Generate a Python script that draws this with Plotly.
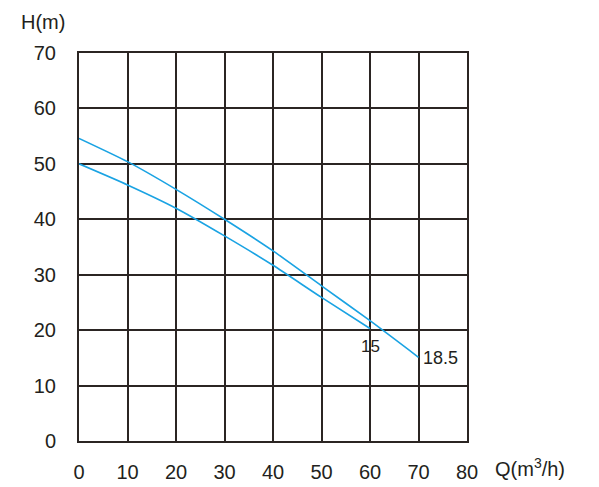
import plotly.graph_objects as go

q_185 = [0, 10, 20, 30, 40, 50, 60, 70]
h_185 = [54.6, 50.4, 45.4, 40.0, 34.3, 28.0, 21.7, 15.1]
q_15 = [0, 10, 20, 30, 40, 50, 60]
h_15 = [50.0, 46.2, 42.0, 37.0, 31.7, 25.9, 20.3]

x_ticks = [0, 10, 20, 30, 40, 50, 60, 70, 80]
y_ticks = [0, 10, 20, 30, 40, 50, 60, 70]

BLUE = "#1aa3e3"
GRID = "#2b2523"
TXT = "#231f20"
FONT = "Liberation Sans, Arial, sans-serif"

fig = go.Figure()
fig.add_trace(go.Scatter(x=q_185, y=h_185, mode="lines", line=dict(color=BLUE, width=1.6, shape="spline", smoothing=0.6), showlegend=False))
fig.add_trace(go.Scatter(x=q_15, y=h_15, mode="lines", line=dict(color=BLUE, width=1.6, shape="spline", smoothing=0.6), showlegend=False))

fig.add_annotation(x=q_15[-1], y=h_15[-1], text="15", showarrow=False, xanchor="center", yanchor="top", yshift=-7,
                   font=dict(size=17, color=TXT, family=FONT))
fig.add_annotation(x=q_185[-1], y=h_185[-1], text="18.5", showarrow=False, xanchor="left", yanchor="middle", xshift=2, yshift=-1,
                   font=dict(size=18, color=TXT, family=FONT))

fig.add_annotation(xref="paper", yref="paper", x=0, y=1.0, xshift=-60, yshift=31, text="H(m)", showarrow=False,
                   xanchor="left", yanchor="middle", font=dict(size=20, color=TXT, family=FONT))
fig.add_annotation(xref="paper", yref="paper", x=1.0, y=0.0, xshift=26, yshift=-26, text="Q(m<sup>3</sup>/h)", showarrow=False,
                   xanchor="left", yanchor="middle", font=dict(size=20, color=TXT, family=FONT))

fig.update_xaxes(range=[0, 80], tickvals=x_ticks, ticktext=[str(v) for v in x_ticks], showgrid=True, gridcolor=GRID, gridwidth=2,
                 showline=True, linecolor=GRID, linewidth=2, mirror=True, zeroline=False, ticks="", ticklabelstandoff=12,
                 tickfont=dict(size=20, color=TXT, family=FONT))
fig.update_yaxes(range=[0, 70], tickvals=y_ticks, ticktext=[str(v) for v in y_ticks], showgrid=True, gridcolor=GRID, gridwidth=2,
                 showline=True, linecolor=GRID, linewidth=2, mirror=True, zeroline=False, ticks="", ticklabelstandoff=17,
                 tickfont=dict(size=20, color=TXT, family=FONT))

fig.update_layout(width=591, height=487, margin=dict(l=71, r=132, t=45, b=45),
                  plot_bgcolor="white", paper_bgcolor="white")
fig.write_html("out.html")
